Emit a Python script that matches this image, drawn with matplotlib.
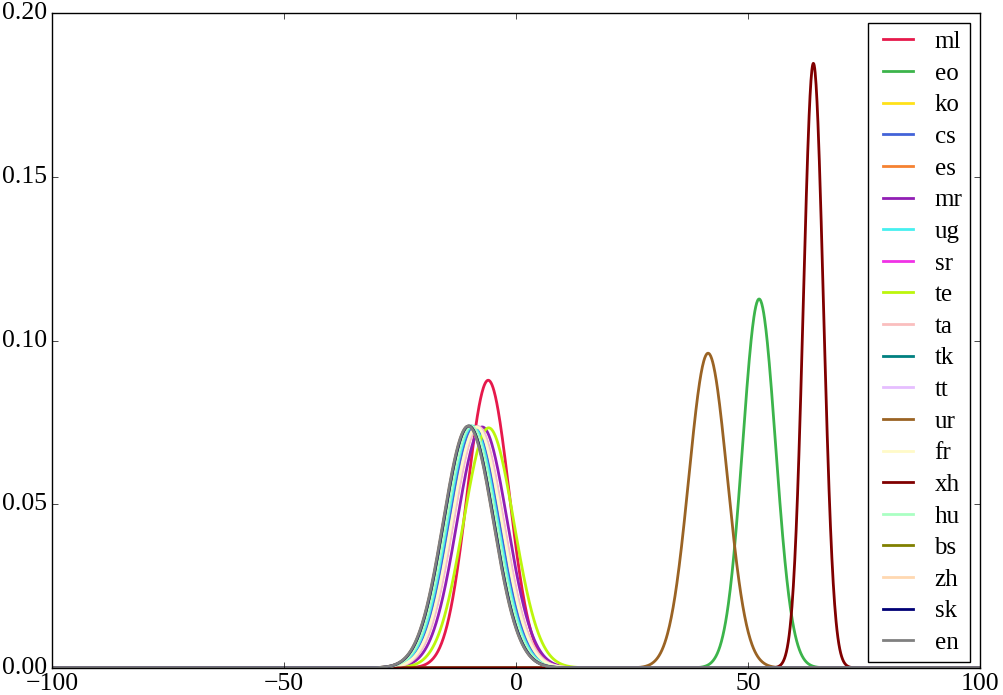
import numpy as np
import matplotlib
matplotlib.use('Agg')
import matplotlib.pyplot as plt

plt.style.use('classic')
plt.rcParams['font.family'] = ['Liberation Serif', 'DejaVu Serif']
plt.rcParams['mathtext.fontset'] = 'stix'

# language labels, gaussian means / std devs
langs = ['ml', 'eo', 'ko', 'cs', 'es', 'mr', 'ug', 'sr', 'te', 'ta',
         'tk', 'tt', 'ur', 'fr', 'xh', 'hu', 'bs', 'zh', 'sk', 'en']
means = [-6.0, 52.4, -8.6, -9.0, -10.0, -7.3, -9.4, -8.2, -5.9, -8.1,
         -9.8, -8.4, 41.4, -8.5, 64.1, -9.7, -10.2, -10.3, -10.2, -10.3]
sigmas = [4.54, 3.54, 5.42, 5.42, 5.42, 5.42, 5.40, 5.42, 5.44, 5.42,
          5.40, 5.42, 4.15, 5.42, 2.16, 5.40, 5.40, 5.40, 5.40, 5.40]
colors = ['#e6194b', '#3cb44b', '#ffe119', '#4363d8', '#f58231', '#911eb4',
          '#46f0f0', '#f032e6', '#bcf60c', '#fabebe', '#008080', '#e6beff',
          '#9a6324', '#fffac8', '#800000', '#aaffc3', '#808000', '#ffd8b1',
          '#000075', '#808080']

x = np.linspace(-100, 100, 2000)

fig = plt.figure(figsize=(10.04, 6.95), dpi=100, facecolor='white')
ax = fig.add_axes([0.052, 0.039, 0.924, 0.942])

for lang, mu, sd, col in zip(langs, means, sigmas, colors):
    y = np.exp(-0.5 * ((x - mu) / sd) ** 2) / (sd * np.sqrt(2 * np.pi))
    ax.plot(x, y, color=col, linewidth=2, label=lang)

ax.set_xlim(-100, 100)
ax.set_ylim(0, 0.2)
ax.set_xticks([-100, -50, 0, 50, 100])
ax.set_yticks([0, 0.05, 0.10, 0.15, 0.20])
ax.tick_params(labelsize=18.5)
ax.legend(loc='upper right', fontsize=18, handlelength=1.83, handletextpad=0.55,
          labelspacing=0.365, borderaxespad=0.4, borderpad=0.3)

fig.savefig('out.png', dpi=100, facecolor='white')
